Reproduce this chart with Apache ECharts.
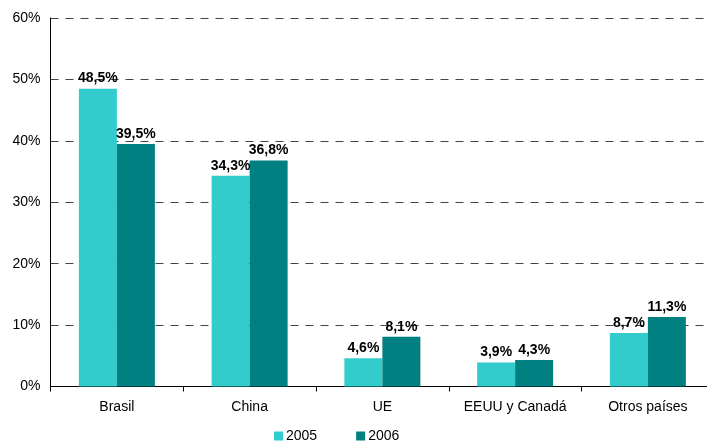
<!DOCTYPE html>
<html><head><meta charset="utf-8">
<script src="https://cdn.jsdelivr.net/npm/echarts@6/dist/echarts.min.js"></script>
<style>html,body{margin:0;padding:0;background:#fff}#c{width:707px;height:443px}</style>
</head><body><div id="c"></div>
<script>
const categories = ['Brasil', 'China', 'UE', 'EEUU y Canadá', 'Otros países'];
const values2005 = [48.5, 34.3, 4.6, 3.9, 8.7];
const values2006 = [39.5, 36.8, 8.1, 4.3, 11.3];
const seriesNames = ['2005', '2006'];
const font = 'Liberation Sans, Arial, sans-serif';
const fmt = p => p.value.toFixed(1).replace('.', ',') + '%';
const chart = echarts.init(document.getElementById('c'), null, {renderer: 'canvas'});
const lbl = {show: true, position: 'top', formatter: fmt, fontFamily: font, fontSize: 14, fontWeight: 'bold', color: '#000', distance: 3};
chart.setOption({
  animation: false,
  grid: {left: 50.5, width: 663.75, top: 18, height: 368.5, containLabel: false, outerBoundsMode: 'none'},
  legend: {
    top: 429, left: 274, padding: 0, itemWidth: 9, itemHeight: 9, itemGap: 39,
    icon: 'rect', textStyle: {fontFamily: font, fontSize: 14, color: '#000', padding: [0, 0, 0, -2]},
    data: seriesNames
  },
  xAxis: {
    type: 'category', data: categories,
    axisLine: {lineStyle: {color: '#000', width: 1}},
    axisTick: {show: true, interval: 0, lineStyle: {color: '#000'}, length: 5},
    axisLabel: {interval: 0, hideOverlap: false, fontFamily: font, fontSize: 14, color: '#000', margin: 14}
  },
  yAxis: {
    type: 'value', min: 0, max: 60, interval: 10,
    axisLine: {show: true, lineStyle: {color: '#000', width: 1}},
    axisTick: {show: false},
    axisLabel: {formatter: '{value}%', fontFamily: font, fontSize: 14, color: '#000', margin: 10},
    splitLine: {lineStyle: {color: '#444', type: [8, 7], width: 1}}
  },
  series: [
    {name: seriesNames[0], type: 'bar', data: values2005, barWidth: 38, barGap: '0%', itemStyle: {color: '#33CCCC'}, label: lbl},
    {name: seriesNames[1], type: 'bar', data: values2006, barWidth: 38, barGap: '0%', itemStyle: {color: '#008080'}, label: lbl}
  ]
});
</script></body></html>
